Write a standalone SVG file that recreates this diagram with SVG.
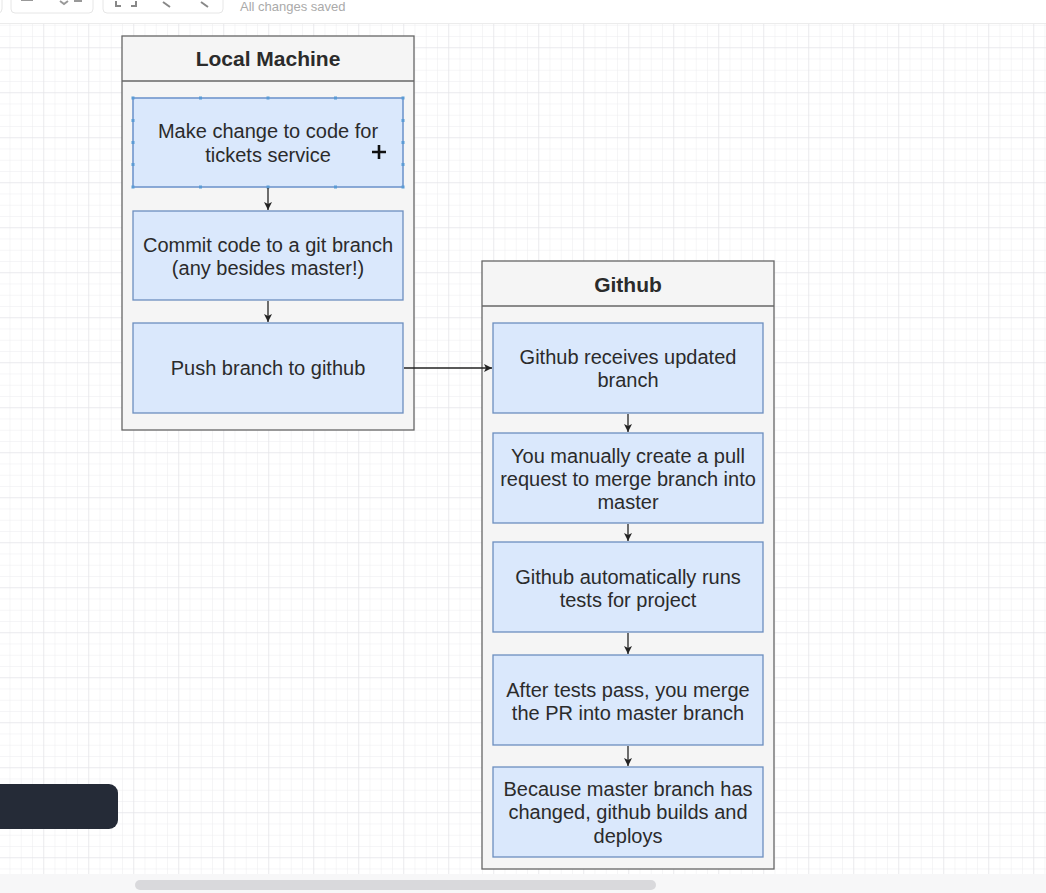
<svg xmlns="http://www.w3.org/2000/svg" width="1046" height="893" viewBox="0 0 1046 893">
<style>
.lane{fill:#f5f5f5;stroke:#666;stroke-width:1.3}
.box{fill:#dae8fc;stroke:#6c8ebf;stroke-width:1.3}
.t{font-family:"Liberation Sans",Arial,sans-serif;font-size:20px;fill:#2b2b2b;text-anchor:middle}
.h{font-family:"Liberation Sans",Arial,sans-serif;font-size:21px;font-weight:bold;fill:#2b2b2b;text-anchor:middle}
.edge{stroke:#222;stroke-width:1.3;fill:none}
.hd{fill:#5b9bd5}
</style>
<defs>
<pattern id="minor" patternUnits="userSpaceOnUse" x="133.25" y="47.25" width="11.25" height="11.25">
<path d="M0 0H11.25M0 0V11.25" stroke="#ececef" stroke-width="1" fill="none"/>
</pattern>
<pattern id="major" patternUnits="userSpaceOnUse" x="133.25" y="47.25" width="45" height="45">
<path d="M0 0H45M0 0V45" stroke="#e2e2e6" stroke-width="1" fill="none"/>
</pattern>
<marker id="arr" markerWidth="11" markerHeight="11" refX="9" refY="5.5" orient="auto" markerUnits="userSpaceOnUse">
<path d="M1 1.5L9 5.5L1 9.5L3 5.5Z" fill="#222"/>
</marker>
</defs>
<rect width="1046" height="893" fill="#ffffff"/>
<g id="canvas-grid">
<rect x="0" y="24" width="1046" height="850" fill="url(#minor)"/>
<rect x="0" y="24" width="1046" height="850" fill="url(#major)"/>
</g>
<g id="toolbar">
<rect x="0" y="0" width="1046" height="23" fill="#ffffff"/>
<line x1="0" y1="23.5" x2="1046" y2="23.5" stroke="#ececec"/>
<rect x="-8" y="-10" width="10" height="23" rx="4" fill="#fff" stroke="#e6e6e6"/>
<rect x="11" y="-10" width="82" height="23" rx="4" fill="#fff" stroke="#e6e6e6"/>
<rect x="103" y="-10" width="120" height="23" rx="4" fill="#fff" stroke="#e6e6e6"/>
<path d="M21 0H33M60 1L64 4L68 1M74 1H82" stroke="#999" stroke-width="2" fill="none"/>
<path d="M116 1V6H121M136 1V6H131" stroke="#888" stroke-width="2" fill="none"/>
<path d="M163 2L170 7M201 2L208 7" stroke="#888" stroke-width="2" fill="none"/>
<text x="240" y="11" font-family="Liberation Sans,Arial,sans-serif" font-size="13" fill="#aaa">All changes saved</text>
</g>
<g id="bottom-bar">
<rect x="0" y="874" width="1046" height="19" fill="#f7f7f8"/>
<rect x="135" y="880" width="521" height="10" rx="5" fill="#d9d9dc"/>
<rect x="-12" y="784" width="130" height="45" rx="9" fill="#252b37"/>
</g>
<g id="local-machine">
<rect class="lane" x="122" y="36" width="292" height="394"/>
<line x1="122" y1="81" x2="414" y2="81" stroke="#666" stroke-width="1.3"/>
<text class="h" x="268" y="66">Local Machine</text>
</g>
<g id="github">
<rect class="lane" x="482" y="261" width="292" height="608"/>
<line x1="482" y1="306" x2="774" y2="306" stroke="#666" stroke-width="1.3"/>
<text class="h" x="628" y="292">Github</text>
</g>
<g id="n1">
<rect class="box" x="133" y="98" width="270" height="89"/>
<text class="t" x="268" y="138">Make change to code for</text>
<text class="t" x="268" y="162">tickets service</text>
</g>
<g id="n1-selection">
<rect x="133" y="98" width="270" height="89" fill="none" stroke="#7aa0d8" stroke-width="1"/>
<rect class="hd" x="131.5" y="96.5" width="3" height="3"/><rect class="hd" x="199" y="96.5" width="3" height="3"/><rect class="hd" x="266.5" y="96.5" width="3" height="3"/><rect class="hd" x="334" y="96.5" width="3" height="3"/><rect class="hd" x="401.5" y="96.5" width="3" height="3"/>
<rect class="hd" x="131.5" y="185.5" width="3" height="3"/><rect class="hd" x="199" y="185.5" width="3" height="3"/><rect class="hd" x="266.5" y="185.5" width="3" height="3"/><rect class="hd" x="334" y="185.5" width="3" height="3"/><rect class="hd" x="401.5" y="185.5" width="3" height="3"/>
<rect class="hd" x="131.5" y="119" width="3" height="3"/><rect class="hd" x="131.5" y="141" width="3" height="3"/><rect class="hd" x="131.5" y="163" width="3" height="3"/>
<rect class="hd" x="401.5" y="119" width="3" height="3"/><rect class="hd" x="401.5" y="141" width="3" height="3"/><rect class="hd" x="401.5" y="163" width="3" height="3"/>
<path d="M379 145V159M372 152H386" stroke="#111" stroke-width="2.6"/>
</g>
<g id="n2">
<rect class="box" x="133" y="211" width="270" height="89"/>
<text class="t" x="268" y="252">Commit code to a git branch</text>
<text class="t" x="268" y="275">(any besides master!)</text>
</g>
<g id="n3">
<rect class="box" x="133" y="323" width="270" height="90"/>
<text class="t" x="268" y="375">Push branch to github</text>
</g>
<g id="g1">
<rect class="box" x="493" y="323" width="270" height="90"/>
<text class="t" x="628" y="364">Github receives updated</text>
<text class="t" x="628" y="387">branch</text>
</g>
<g id="g2">
<rect class="box" x="493" y="433" width="270" height="90"/>
<text class="t" x="628" y="463">You manually create a pull</text>
<text class="t" x="628" y="486">request to merge branch into</text>
<text class="t" x="628" y="509">master</text>
</g>
<g id="g3">
<rect class="box" x="493" y="542" width="270" height="90"/>
<text class="t" x="628" y="584">Github automatically runs</text>
<text class="t" x="628" y="607">tests for project</text>
</g>
<g id="g4">
<rect class="box" x="493" y="655" width="270" height="90"/>
<text class="t" x="628" y="697">After tests pass, you merge</text>
<text class="t" x="628" y="720">the PR into master branch</text>
</g>
<g id="g5">
<rect class="box" x="493" y="767" width="270" height="90"/>
<text class="t" x="628" y="796">Because master branch has</text>
<text class="t" x="628" y="819">changed, github builds and</text>
<text class="t" x="628" y="843">deploys</text>
</g>
<g id="connectors">
<path class="edge" d="M268 188V210" marker-end="url(#arr)"/>
<path class="edge" d="M268 301V322" marker-end="url(#arr)"/>
<path class="edge" d="M404 368H492" marker-end="url(#arr)"/>
<path class="edge" d="M628 414V432" marker-end="url(#arr)"/>
<path class="edge" d="M628 524V541" marker-end="url(#arr)"/>
<path class="edge" d="M628 633V654" marker-end="url(#arr)"/>
<path class="edge" d="M628 746V766" marker-end="url(#arr)"/>
</g>
</svg>
